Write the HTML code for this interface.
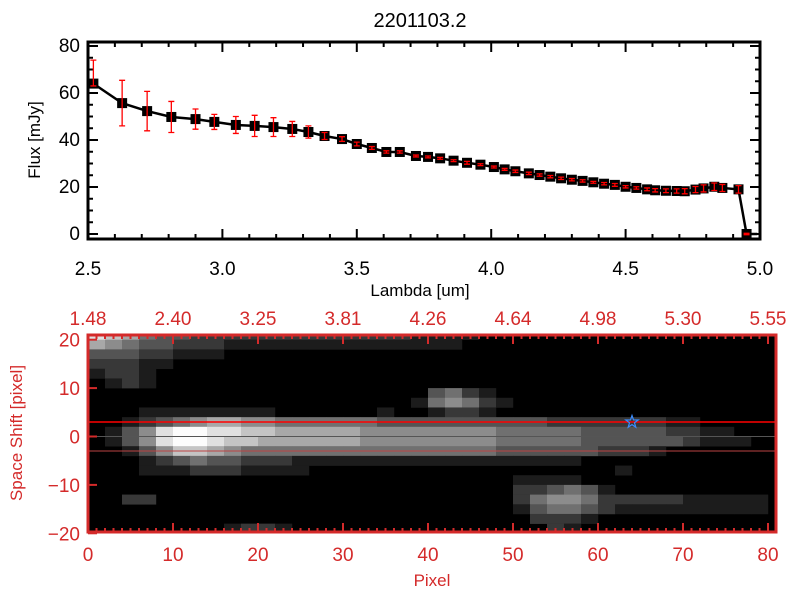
<!DOCTYPE html>
<html><head><meta charset="utf-8"><style>
html,body{margin:0;padding:0;background:#fff;}
svg{display:block;font-family:"Liberation Sans",sans-serif;}
</style></head><body>
<svg id="s" width="800" height="600" viewBox="0 0 800 600"></svg>
<script>
// ---- top chart data ----
const lambda=[2.52,2.627,2.72,2.81,2.90,2.97,3.05,3.12,3.19,3.26,3.32,3.38,3.445,3.5,3.556,3.61,3.66,3.72,3.765,3.81,3.86,3.91,3.96,4.01,4.05,4.09,4.14,4.18,4.22,4.26,4.30,4.34,4.38,4.42,4.46,4.50,4.54,4.58,4.61,4.65,4.69,4.72,4.76,4.79,4.83,4.86,4.92,4.95];
const flux=[64,55.7,52.3,49.8,48.9,47.7,46.4,46,45.5,44.7,43.4,41.7,40.4,38.3,36.6,34.9,34.9,33.2,32.8,32.2,31.2,30.3,29.5,28.5,27.5,26.7,25.8,25.1,24.4,23.7,23.1,22.6,22,21.4,20.9,20.1,19.6,19,18.6,18.4,18.3,18.2,18.9,19.4,20.1,19.6,19,0];
const errUp=[10,9.7,8.4,6.6,4.3,3.2,3.6,4.5,4,3.2,2.6,1.5,1,0.8,0.6,0.5,0.5,0.4,0.4,0.4,0.4,0.6,0.4,0.4,0.4,0.5,0.5,0.5,0.5,0.5,0.5,0.5,0.4,0.5,0.6,0.5,0.5,0.6,0.7,0.8,0.9,1.1,1.3,1.5,1.6,1.5,1.6,0.3];
const errDn=[1,9.7,8.4,6.6,4.3,3.2,3.6,4.5,4,3.2,2.6,1.5,1,0.8,0.6,0.5,0.5,0.4,0.4,0.4,0.4,0.6,0.4,0.4,0.4,0.5,0.5,0.5,0.5,0.5,0.5,0.5,0.4,0.5,0.6,0.5,0.5,0.6,0.7,0.8,0.9,1.1,1.3,1.5,1.6,1.5,1.6,0.3];
const xTicks=[2.5,3.0,3.5,4.0,4.5,5.0];
const xTickLabels=["2.5","3.0","3.5","4.0","4.5","5.0"];
const yTicks=[0,20,40,60,80];
// ---- image data ----
const imgRows=[
"8764332222222222222111100000000000000000",
"6543322211111111111111000000000000000000",
"3332211100000000000000000000000000000000",
"2221100000000000000000000000000000000000",
"1221000000000000000000000000000000000000",
"0121000000000000000000000000000000000000",
"0000000000000000000034210000000000000000",
"0000000000000000000145421000000000000000",
"0001111111100000010012210000000000000000",
"0012345665544444433333333332222222110000",
"0135899887766666555555554444433333221100",
"0135899877666666555555554444433333321110",
"0013577654444444444444443333332221000000",
"0001234332221111111111111111100000000000",
"0001112221111000000000000000000100000000",
"0000000000000000000000000111100000000000",
"0000000000000000000000000223431000000000",
"0022000000000000000000000245542222211111",
"0000000000000000000000000134432111111111",
"0000000000000000000000000022210000000000",
"0000000012210000000000000002100000000000",
"0000000011100000000000000000000000000000"];
const pixTicks=[0,10,20,30,40,50,60,70,80];
const topLabels=["1.48","2.40","3.25","3.81","4.26","4.64","4.98","5.30","5.55"];
const shiftTicks=[-20,-10,0,10,20];
const starPos=[64,3];

const NS="http://www.w3.org/2000/svg";
const svg=document.getElementById('s');
function mk(t,a,p){const e=document.createElementNS(NS,t);for(const k in a)e.setAttribute(k,a[k]);(p||svg).appendChild(e);return e;}
const fx=v=>88+(v-2.5)*268.8;
const fy=v=>234-v*2.35;
const RED="#d42a2a";

let t=mk('text',{x:420,y:27,'text-anchor':'middle','font-size':20,fill:'#000'});t.textContent="2201103.2";



const g1=mk('g',{});


let fr=mk('rect',{x:88,y:42,width:672,height:197,fill:'none',stroke:'#000','stroke-width':3},g1);


for(let v=2.5;v<=5.001;v+=0.1){const x=fx(v);const major=Math.abs(v*2-Math.round(v*2))<1e-6;const L=major?10:5;
 mk('line',{x1:x,y1:239,x2:x,y2:239-L,stroke:'#000','stroke-width':2},g1);
 mk('line',{x1:x,y1:42,x2:x,y2:42+L,stroke:'#000','stroke-width':2},g1);}
for(let v=0;v<=80;v+=5){const y=fy(v);const L=v%20==0?10:5;
 mk('line',{x1:88,y1:y,x2:88+L,y2:y,stroke:'#000','stroke-width':2},g1);
 mk('line',{x1:760,y1:y,x2:760-L,y2:y,stroke:'#000','stroke-width':2},g1);}
xTicks.forEach((v,i)=>{const e=mk('text',{x:fx(v),y:275,'text-anchor':'middle','font-size':19},g1);e.textContent=xTickLabels[i];
 
 });
yTicks.forEach(v=>{const e=mk('text',{x:80,y:fy(v)+6,'text-anchor':'end','font-size':19},g1);e.textContent=String(v);
 
 });
t=mk('text',{x:420,y:296,'text-anchor':'middle','font-size':17},g1);t.textContent="Lambda [um]";


t=mk('text',{x:0,y:0,'text-anchor':'middle','font-size':17,transform:'translate(40,140) rotate(-90)'},g1);t.textContent="Flux [mJy]";


let pts=lambda.map((l,i)=>fx(l)+','+fy(flux[i])).join(' ');
pts+=' '+fx(4.99)+','+fy(0);
let pl=mk('polyline',{points:pts,fill:'none',stroke:'#000','stroke-width':2.5},g1);


lambda.forEach((l,i)=>{const x=fx(l),y=fy(flux[i]);
 const m=mk('rect',{x:x-5,y:y-5,width:10,height:10,fill:'#000'},g1);
 
 
 const y1=fy(flux[i]+errUp[i]),y2=fy(flux[i]-errDn[i]);
 const eb=mk('path',{d:`M${x},${y1}V${y2}M${x-3},${y1}H${x+3}M${x-3},${y2}H${x+3}`,stroke:'#f00','stroke-width':1.3,fill:'none'},g1);
 
 });

const px=v=>88+v*8.5;
const py=v=>436.5-v*4.84;
const g2=mk('g',{});


mk('rect',{x:88,y:335,width:688,height:197,fill:'#000'},g2);
imgRows.forEach((row,r)=>{for(let c=0;c<row.length;c++){const v=+row[c];if(!v)continue;
 const g=Math.round(v*28);const yt=22-2*r;
 const y0=Math.max(335,py(yt)),y1=Math.min(532,py(yt-2));if(y1<=y0)continue;
 const cell=mk('rect',{x:px(2*c),y:y0,width:17.2,height:y1-y0+0.3,fill:`rgb(${g},${g},${g})`},g2);
 
 }});
let ln=mk('line',{x1:88,y1:py(3),x2:776,y2:py(3),stroke:'#f00','stroke-width':1.5},g2);


ln=mk('line',{x1:88,y1:py(0),x2:776,y2:py(0),stroke:'#555','stroke-width':1},g2);


ln=mk('line',{x1:88,y1:py(-3),x2:776,y2:py(-3),stroke:'#b44','stroke-width':1},g2);


(function(){const cx=px(starPos[0]),cy=py(starPos[1]);let d='';for(let k=0;k<10;k++){const r=k%2?2.6:6.5;const a=-Math.PI/2+k*Math.PI/5;d+=(k?'L':'M')+(cx+r*Math.cos(a)).toFixed(1)+','+(cy+r*Math.sin(a)).toFixed(1);}
 const s=mk('path',{d:d+'Z',fill:'none',stroke:'#3a8cff','stroke-width':1.2},g2);
 
 })();
fr=mk('rect',{x:88,y:335,width:688,height:197,fill:'none',stroke:RED,'stroke-width':3},g2);


for(let v=0;v<=80;v++){const x=px(v);const L=v%10==0?9:4;
 mk('line',{x1:x,y1:532,x2:x,y2:532-L,stroke:RED,'stroke-width':2},g2);
 mk('line',{x1:x,y1:335,x2:x,y2:335+L,stroke:RED,'stroke-width':2},g2);}
shiftTicks.forEach(v=>{const y=py(v);mk('line',{x1:88,y1:y,x2:97,y2:y,stroke:RED,'stroke-width':2},g2);
 const e=mk('text',{x:80,y:y+7,'text-anchor':'end','font-size':19,fill:RED},g2);e.textContent=String(v).replace('-','\u2212');
 
 });
pixTicks.forEach((v,i)=>{let e=mk('text',{x:px(v),y:561,'text-anchor':'middle','font-size':19,fill:RED},g2);e.textContent=String(v);
 
 
 e=mk('text',{x:px(v),y:325,'text-anchor':'middle','font-size':19,fill:RED},g2);e.textContent=topLabels[i];
 
 });
t=mk('text',{x:432,y:586,'text-anchor':'middle','font-size':17,fill:RED},g2);t.textContent="Pixel";


t=mk('text',{x:0,y:0,'text-anchor':'middle','font-size':17,fill:RED,transform:'translate(22,433) rotate(-90)'},g2);t.textContent="Space Shift [pixel]";


</script>
</body></html>
